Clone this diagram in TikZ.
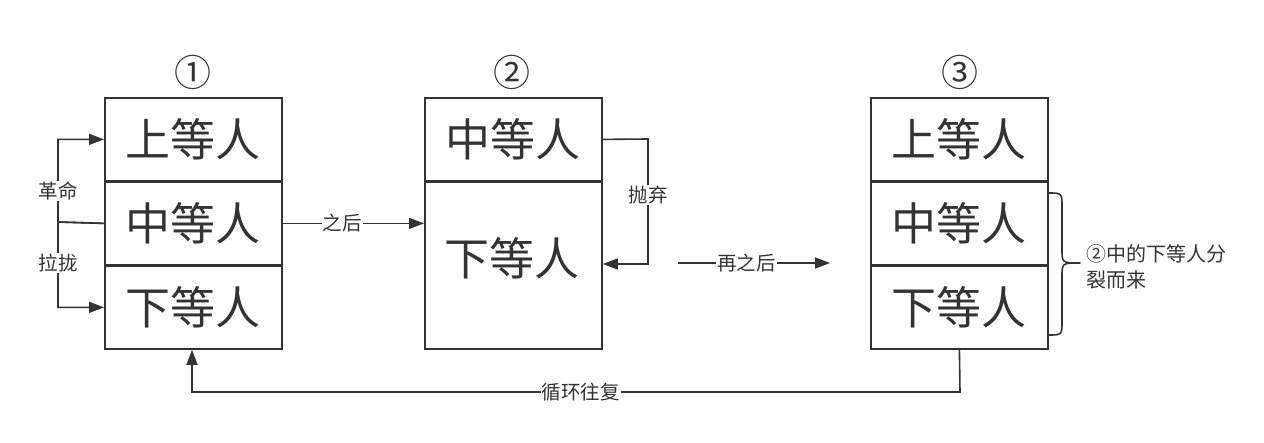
\documentclass[tikz,border=0pt]{standalone}
\usepackage{fontspec}
\setmainfont{Noto Sans CJK SC}
\usetikzlibrary{arrows.meta,calc}
\definecolor{ink}{HTML}{333333}
\begin{document}
\begin{tikzpicture}[x=1pt,y=-1pt,
  big/.style={font=\fontsize{45}{50}\selectfont,text=ink},
  cell/.style={draw=ink,line width=1.8pt,minimum width=177pt,inner sep=0pt,big,anchor=north west},
  num/.style={font=\fontsize{37}{40}\selectfont,text=ink},
  lab/.style={font=\fontsize{19.5}{22}\selectfont,text=ink,fill=white,inner sep=1pt},
  conn/.style={draw=ink,line width=1.6pt},
  arr/.style={conn,-{Triangle[length=15pt,width=11pt]}}]
\useasboundingbox (0,0) rectangle (1264,443);
% column 1
\node[num] (n1) at (193,72) {①};
\node[cell,minimum height=83pt] (a1) at (104,97) {上等人};
\node[cell,minimum height=83pt] (a2) at (104,181) {中等人};
\node[cell,minimum height=83pt] (a3) at (104,265) {下等人};
% column 2
\node[num] (n2) at (512,72) {②};
\node[cell,minimum height=83pt] (b1) at (424,97) {中等人};
\node[cell,minimum height=167pt] (b2) at (424,181) {};
\node[big] (b2t) at (512,258) {下等人};
% column 3
\node[num] (n3) at (960,72) {③};
\node[cell,minimum height=83pt] (c1) at (870,97) {上等人};
\node[cell,minimum height=83pt] (c2) at (870,181) {中等人};
\node[cell,minimum height=83pt] (c3) at (870,265) {下等人};
% left connectors
\coordinate (lj) at (58,222);
\draw[arr] (a2.west) -- (lj) |- (a1.west) node[lab,pos=0.19] (l1) {革命};
\draw[arr] (a2.west) -- (lj) |- (a3.west) node[lab,pos=0.24] (l2) {拉拢};
% after
\draw[arr] (a2.east) -- (a2.east -| b2.west) node[lab,pos=0.42] (l3) {之后};
% discard
\coordinate (dj) at (648,139);
\draw[arr] (b1.east) -- (dj) |- (b2.east |- 0,264) node[lab,pos=0.225] (l4) {抛弃};
% then after
\coordinate (ts) at (678,263);
\coordinate (te) at (830,263);
\draw[arr] (ts) -- (te) node[lab,pos=0.45] (l5) {再之后};
% brace
\draw[conn,line join=round] (1048,193) .. controls (1062,193) .. (1062,207) -- (1062,249)
  .. controls (1062,263) .. (1080,263) .. controls (1062,263) .. (1062,277) -- (1062,321)
  .. controls (1062,335) .. (1048,335);
\node[font=\fontsize{20}{26}\selectfont,text=ink,align=left,anchor=west] (l6) at (1083,267) {②中的下等人分\\裂而来};
% loop back
\coordinate (bj) at (960,392);
\draw[arr] (c3.south) -- (bj) -| (a3.south -| 192,0) node[lab,pos=0.247] (l7) {循环往复};
\end{tikzpicture}
\end{document}
